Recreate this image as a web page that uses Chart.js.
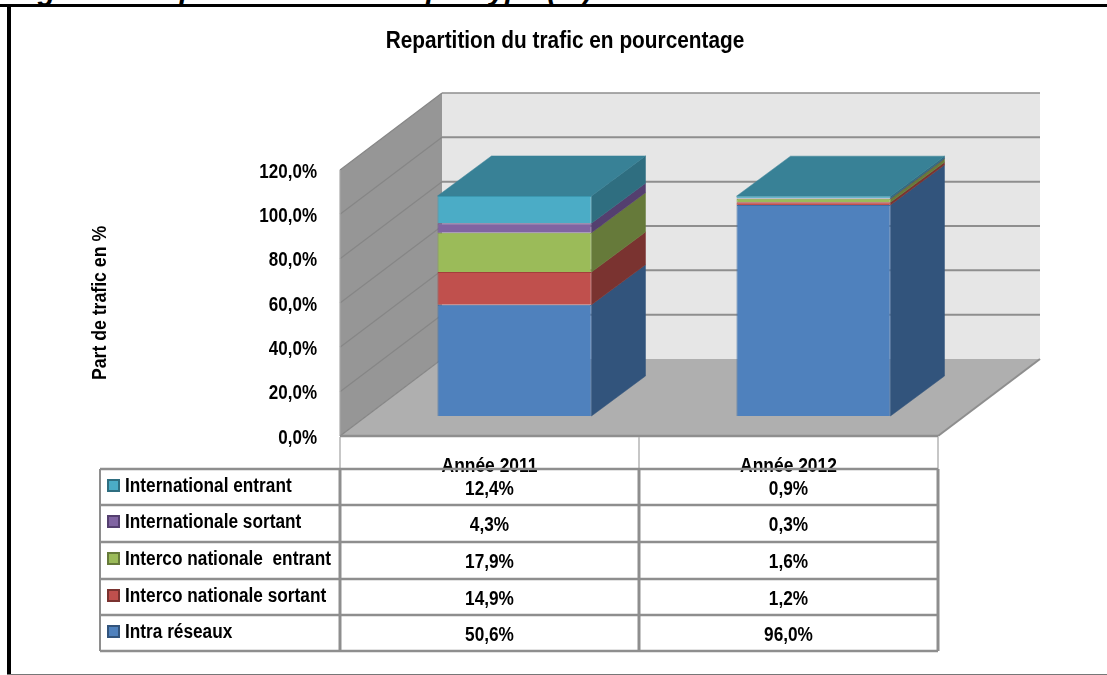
<!DOCTYPE html>
<html lang="fr">
<head>
<meta charset="utf-8">
<style>
html,body{margin:0;padding:0;background:#fff;overflow:hidden;width:1107px;height:675px}
#cap{position:absolute;left:12px;top:-26px;font:italic bold 29px "Liberation Sans",sans-serif;white-space:nowrap;color:#000}
#clip{position:absolute;left:0;top:0;width:1107px;height:5px;overflow:hidden}
#ft{position:absolute;left:0;top:4px;width:1107px;height:3px;background:#000}
#fl{position:absolute;left:7px;top:4px;width:4px;height:671px;background:#000}
#fb{position:absolute;left:7px;top:674px;width:1100px;height:1px;background:#777}
#wrap{position:absolute;left:24px;top:0;width:1083px;height:675px}
canvas{display:block}
</style>
</head>
<body>
<div id="clip"><div id="cap">Figure 5: Repartition du trafic par type (%)</div></div>
<div id="ft"></div><div id="fl"></div><div id="fb"></div>
<div id="wrap"><canvas id="c" width="1083" height="675"></canvas></div>
<script src="https://cdn.jsdelivr.net/npm/chart.js@4/dist/chart.umd.min.js"></script>
<script>
const categories = ['Année 2011', 'Année 2012'];
const yTicks = [0, 20, 40, 60, 80, 100, 120];
const intraReseaux = [50.6, 96.0];
const intercoSortant = [14.9, 1.2];
const intercoEntrant = [17.9, 1.6];
const internationalSortant = [4.3, 0.3];
const internationalEntrant = [12.4, 0.9];
const seriesNames = ['Intra réseaux', 'Interco nationale sortant', 'Interco nationale  entrant', 'Internationale sortant', 'International entrant'];
const frontColors = ['#4F81BD', '#C0504D', '#9BBB59', '#8064A2', '#4BACC6'];
const borderColors = ['#3f6da3', '#a33f3c', '#86a347', '#6b5189', '#3b98b0'];
const sideColors = ['#32547c', '#7a3330', '#667a3a', '#543f6f', '#2f6e80'];
const topColor = '#388196';
const FONT = '"Liberation Sans",sans-serif';
const CONDENSE = 0.85;
const pct = v => v.toFixed(1).replace('.', ',') + '%';

const WALL = {dx: 102, dy: -77};
const BAR_SHIFT = {dx: 25, dy: -20};
const BAR_DEPTH = {dx: 54, dy: -40};
const GRID = '#8e8e8e';
const rows = [33, 69, 106, 143, 179, 215];

function poly(ctx, pts, fill, stroke, lw) {
  ctx.beginPath();
  pts.forEach((p, i) => i ? ctx.lineTo(p[0], p[1]) : ctx.moveTo(p[0], p[1]));
  ctx.closePath();
  if (fill) { ctx.fillStyle = fill; ctx.fill(); }
  if (stroke) { ctx.strokeStyle = stroke; ctx.lineWidth = lw || 1; ctx.stroke(); }
}
function line(ctx, x1, y1, x2, y2, color, lw) {
  ctx.beginPath(); ctx.moveTo(x1, y1); ctx.lineTo(x2, y2);
  ctx.strokeStyle = color; ctx.lineWidth = lw; ctx.stroke();
}

const box3d = {
  id: 'box3d',
  beforeDatasetsDraw(chart) {
    const {ctx, chartArea: a, scales: {y}} = chart;
    const d = WALL;
    ctx.save();
    poly(ctx, [[a.left, a.top], [a.left + d.dx, a.top + d.dy], [a.left + d.dx, a.bottom + d.dy], [a.left, a.bottom]], '#969696');
    poly(ctx, [[a.left + d.dx, a.top + d.dy], [a.right + d.dx, a.top + d.dy], [a.right + d.dx, a.bottom + d.dy], [a.left + d.dx, a.bottom + d.dy]], '#e6e6e6');
    poly(ctx, [[a.left, a.bottom], [a.left + d.dx, a.bottom + d.dy], [a.right + d.dx, a.bottom + d.dy], [a.right, a.bottom]], '#afafaf');
    yTicks.forEach(t => {
      const p = y.getPixelForValue(t);
      line(ctx, a.left, p, a.left + d.dx, p + d.dy, '#868686', 1.2);
      if (t > 0) line(ctx, a.left + d.dx, p + d.dy, a.right + d.dx, p + d.dy, GRID, t === 120 ? 1.5 : 2);
    });
    line(ctx, a.left, a.top, a.left, a.bottom, '#a8a8a8', 1.2);
    line(ctx, a.left, a.bottom, a.right, a.bottom, GRID, 2.5);
    line(ctx, a.right, a.bottom, a.right + d.dx, a.bottom + d.dy, GRID, 2);
    ctx.restore();
    ctx.save();
    ctx.translate(BAR_SHIFT.dx, BAR_SHIFT.dy);
    const n = chart.data.datasets.length;
    chart.data.datasets.forEach((ds, i) => {
      chart.getDatasetMeta(i).data.forEach(bar => {
        const r = bar.x + bar.width / 2, l = bar.x - bar.width / 2, e = BAR_DEPTH;
        poly(ctx, [[r, bar.base], [r + e.dx, bar.base + e.dy], [r + e.dx, bar.y + e.dy], [r, bar.y]], sideColors[i], sideColors[i], 0.5);
        if (i === n - 1) poly(ctx, [[l, bar.y], [l + e.dx, bar.y + e.dy], [r + e.dx, bar.y + e.dy], [r, bar.y]], topColor, topColor, 0.5);
      });
    });
  },
  afterDatasetsDraw(chart) {
    chart.ctx.restore();
  },
  afterDraw(chart) {
    const {ctx, chartArea: a, scales: {x}} = chart;
    const cols = [a.left - 240, a.left, a.left + 299, a.right];
    const Y = rows.map(r => a.bottom + r);
    ctx.save();
    cols.slice(1).forEach(c => line(ctx, c, a.bottom + 1, c, Y[0], '#b4b4b4', 1.5));
    Y.forEach(p => line(ctx, cols[0], p, cols[3], p, GRID, 2.5));
    cols.forEach((c, i) => line(ctx, c, Y[0], c, Y[5], GRID, i === 0 ? 2 : 3));
    ctx.textBaseline = 'middle';
    const n = seriesNames.length;
    for (let r = 0; r < n; r++) {
      const ds = chart.data.datasets[n - 1 - r];
      const top = Y[r], mid = (Y[r] + Y[r + 1]) / 2;
      ctx.fillStyle = frontColors[n - 1 - r];
      ctx.strokeStyle = sideColors[n - 1 - r];
      ctx.lineWidth = 2;
      ctx.fillRect(cols[0] + 8, top + 11, 11, 11);
      ctx.strokeRect(cols[0] + 8, top + 11, 11, 11);
      ctx.fillStyle = '#000';
      ctx.textAlign = 'left';
      ctx.font = 'bold 20.3px ' + FONT;
      ctx.fillText(ds.label, cols[0] + 25, mid - 1);
      ctx.textAlign = 'center';
      categories.forEach((c, k) => ctx.fillText(pct(ds.data[k]), x.getPixelForValue(k), mid + 2));
    }
    ctx.restore();
  }
};

const canvas = document.getElementById('c');
const c2d = canvas.getContext('2d');
const nativeFill = c2d.fillText;
c2d.fillText = function (t, px, py, mw) {
  const shift = this.textAlign === 'right' ? 2 : 0;
  this.save();
  this.translate(px, 0);
  this.scale(CONDENSE, 1);
  nativeFill.call(this, t, 0, py + shift);
  this.restore();
};

new Chart(canvas, {
  type: 'bar',
  plugins: [box3d],
  data: {
    labels: categories,
    datasets: [intraReseaux, intercoSortant, intercoEntrant, internationalSortant, internationalEntrant].map((data, i) => ({
      label: seriesNames[i], data, yAxisID: 'yBars',
      backgroundColor: frontColors[i], borderColor: borderColors[i], borderWidth: 1,
      categoryPercentage: 1, barPercentage: 0.515, clip: false
    }))
  },
  options: {
    responsive: false, animation: false, events: [],
    layout: {padding: {left: 64, right: 65, top: 0, bottom: 139}},
    plugins: {
      legend: {display: false},
      tooltip: {enabled: false},
      title: {display: true, text: 'Repartition du trafic en pourcentage', color: '#000',
        font: {family: FONT, size: 24.5, weight: 'bold'}, padding: {top: 27, bottom: 113.6}}
    },
    scales: {
      x: {stacked: true, grid: {display: false}, border: {display: false},
        ticks: {color: '#000', padding: 10, maxRotation: 0, font: {family: FONT, size: 20.5, weight: 'bold'}},
        afterFit(s) { s.height = 100; }},
      y: {min: 0, max: 120, position: 'left', grid: {display: false}, border: {display: false},
        ticks: {stepSize: 20, padding: 15, color: '#000', callback: v => pct(v), font: {family: FONT, size: 20, weight: 'bold'}},
        title: {display: true, text: 'Part de trafic en %', color: '#000', padding: 0, font: {family: FONT, size: 20.8, weight: 'bold'}},
        afterFit(s) { s.width = 252; }},
      yBars: {stacked: true, position: 'right', min: 0, max: 121, grid: {display: false}, border: {display: false},
        ticks: {display: false}, afterFit(s) { s.width = 104; }}
    }
  }
});
</script>
</body>
</html>
